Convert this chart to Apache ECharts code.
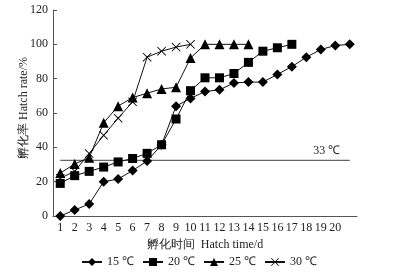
<!DOCTYPE html>
<html><head><meta charset="utf-8">
<script src="https://cdn.jsdelivr.net/npm/echarts@6/dist/echarts.min.js"></script>
<style>html,body{margin:0;padding:0;background:#fff}#c{width:398px;height:272px}</style>
</head><body><div id="c"></div>
<script>
const days = ['1','2','3','4','5','6','7','8','9','10','11','12','13','14','15','16','17','18','19','20',''];
const yTicks = [0, 20, 40, 60, 80, 100, 120];
const t15 = [0, 3.5, 7, 20, 21.5, 26.5, 32, 41.5, 64, 68.5, 72.5, 73.5, 77.5, 78, 78, 82.5, 87, 92.5, 97, 99.3, 100];
const t20 = [19, 23.5, 26, 28.5, 31.5, 33.5, 36.5, 41.5, 56.5, 73, 80.5, 80.5, 83, 89.5, 96, 98, 100];
const t25 = [25, 30.3, 34, 54.3, 64, 69, 71.5, 74, 75, 92, 100, 100, 100, 100];
const t30 = [22, 26, 36.4, 47, 57, 66.5, 92.5, 96, 98.4, 100];
const ref33 = [32.4,32.4,32.4,32.4,32.4,32.4,32.4,32.4,32.4,32.4,32.4,32.4,32.4,32.4,32.4,32.4,32.4,32.4,32.4,32.4,32.4];
const names = ['15 ℃', '20 ℃', '25 ℃', '30 ℃'];

const serif = '"Liberation Serif","Times New Roman",serif';
const axisColor = '#555';
const crossPath = 'path://M0,0.7L0.7,0L5,4.3L9.3,0L10,0.7L5.7,5L10,9.3L9.3,10L5,5.7L0.7,10L0,9.3L4.3,5Z';

function mk(name, data, symbol, size) {
  return {
    name, type: 'line', data, symbol, symbolSize: size,
    lineStyle: { color: '#111', width: 1 },
    itemStyle: { color: '#000' },
    z: 3
  };
}

const chart = echarts.init(document.getElementById('c'));
chart.setOption({
  animation: false,
  grid: { left: 53, right: 41, top: 10, bottom: 56 },
  legend: {
    data: names, bottom: -1, left: 'center', itemWidth: 20, itemHeight: 10, itemGap: 8,
    textStyle: { fontFamily: serif, fontSize: 12, color: '#222' }
  },
  xAxis: {
    type: 'category', data: days, boundaryGap: true,
    name: '孵化时间  Hatch time/d', nameLocation: 'middle', nameGap: 23,
    nameTextStyle: { fontFamily: serif, fontSize: 12, color: '#222' },
    axisLine: { lineStyle: { color: axisColor, width: 1 } },
    axisTick: { inside: true, length: 4, lineStyle: { color: axisColor } },
    axisLabel: { fontFamily: serif, fontSize: 12, color: '#222', margin: 6, interval: 0 }
  },
  yAxis: {
    type: 'value', min: yTicks[0], max: yTicks[yTicks.length - 1], interval: 20,
    name: '孵化率 Hatch rate/%', nameLocation: 'middle', nameGap: 23, nameRotate: 90,
    nameMoveOverlap: false,
    nameTextStyle: { fontFamily: serif, fontSize: 12, color: '#222', padding: [0, 0, 0, 10] },
    axisLine: { show: true, lineStyle: { color: axisColor, width: 1 } },
    axisTick: { show: true, inside: true, length: 4, lineStyle: { color: axisColor } },
    axisLabel: { fontFamily: serif, fontSize: 12, color: '#222', margin: 5 },
    splitLine: { show: false }
  },
  series: [
    mk(names[0], t15, 'diamond', 10),
    mk(names[1], t20, 'rect', 9),
    mk(names[2], t25, 'triangle', 10),
    mk(names[3], t30, crossPath, 9),
    {
      name: '33', type: 'line', data: ref33, symbol: 'none', silent: true,
      lineStyle: { color: '#666', width: 1.2 }, z: 1,
      markPoint: {
        symbol: 'circle', symbolSize: 1,
        itemStyle: { color: 'rgba(0,0,0,0)' },
        data: [{ coord: ['19', 32.4] }],
        label: { show: true, position: 'top', formatter: '33 ℃', fontFamily: serif, fontSize: 12, color: '#222', distance: 3, offset: [6, 0] }
      }
    }
  ]
});
</script>
</body></html>
